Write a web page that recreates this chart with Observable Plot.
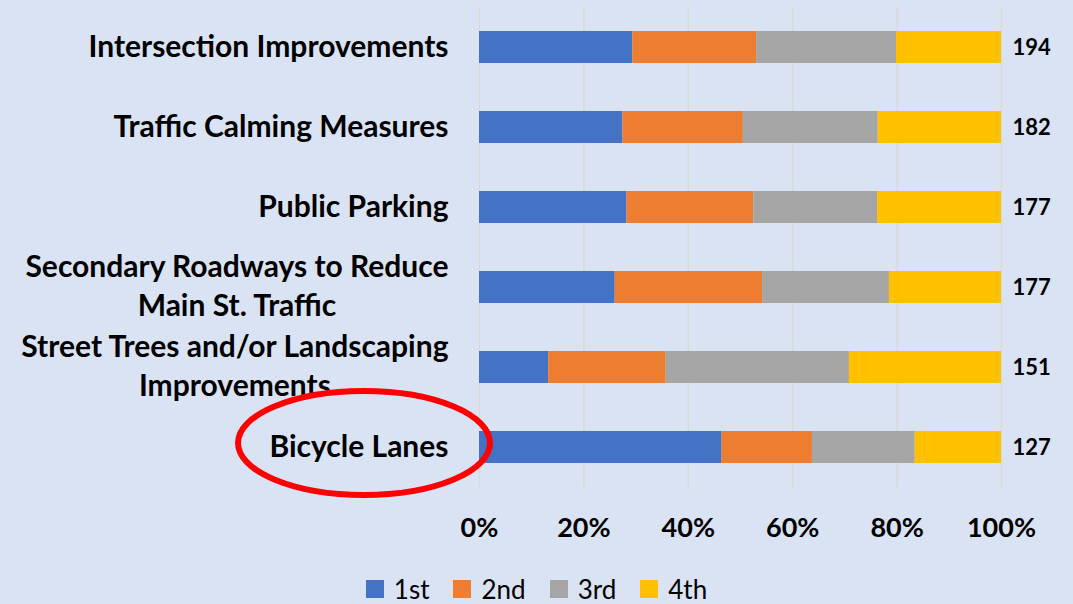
<!DOCTYPE html>
<html>
<head>
<meta charset="utf-8">
<script src="https://cdn.jsdelivr.net/npm/d3@7"></script>
<script src="https://cdn.jsdelivr.net/npm/@observablehq/plot@0.6"></script>
<style>
  html, body { margin: 0; padding: 0; background: #dae3f3; width: 1073px; height: 604px; overflow: hidden; }
  #chart svg { display: block; }
  #legend { display: flex; justify-content: center; align-items: center; height: 30px; margin-top: 4px; margin-left: 0px;
            font-family: Lato, "Open Sans", sans-serif; font-size: 26px; line-height: 30px; color: #000; }
  .item { display: flex; align-items: center; margin: 0 12px; }
  .sw { width: 18px; height: 18px; margin-right: 10px; }
</style>
</head>
<body>
<div id="chart"></div>
<div id="legend"></div>
<script>
const categories = [
  "Intersection Improvements",
  "Traffic Calming Measures",
  "Public Parking",
  "Secondary Roadways to Reduce\nMain St. Traffic",
  "Street Trees and/or Landscaping\nImprovements",
  "Bicycle Lanes"
];
const ranks = ["1st", "2nd", "3rd", "4th"];
const first  = [57, 50, 50, 46, 20, 59];
const second = [46, 42, 43, 50, 34, 22];
const third  = [52, 47, 42, 43, 53, 25];
const fourth = [39, 43, 42, 38, 44, 21];
const totals = [194, 182, 177, 177, 151, 127];
const xTicks = [0, 0.2, 0.4, 0.6, 0.8, 1];
const colors = ["#4472c4", "#ed7d31", "#a5a5a5", "#ffc000"];

const series = [first, second, third, fourth];
const data = [];
categories.forEach((c, i) => ranks.forEach((r, j) => data.push({category: c, rank: r, value: series[j][i]})));
const totalRows = categories.map((c, i) => ({category: c, total: totals[i]}));

const font = "Lato, 'Open Sans', sans-serif";
const plot = Plot.plot({
  width: 1073,
  height: 570,
  marginTop: 7,
  marginBottom: 83,
  marginLeft: 479,
  marginRight: 72,
  style: {background: "#dae3f3", fontFamily: font, color: "#000", overflow: "visible"},
  x: {domain: [0, 1]},
  y: {domain: categories, paddingInner: 0.6, paddingOuter: 0.3},
  color: {domain: ranks, range: colors},
  marks: [
    Plot.gridX(xTicks, {stroke: "#d9d9d9", strokeOpacity: 1, strokeWidth: 1.5}),
    Plot.barX(data, Plot.stackX({x: "value", y: "category", fill: "rank", offset: "normalize"})),
    Plot.text(totalRows, {x: () => 1, y: "category", text: "total", textAnchor: "start", dx: 11,
      fontSize: 22, fontWeight: "bold", fill: "#000"}),
    Plot.axisX({ticks: xTicks, tickFormat: d3.format(".0%"), tickSize: 0, tickPadding: 30,
      fontSize: 27, fontWeight: "bold", label: null}),
    Plot.axisY({tickSize: 0, tickPadding: 31, fontSize: 30, fontWeight: "bold", lineHeight: 1.3, dy: -3, label: null})
  ]
});
document.getElementById("chart").appendChild(plot);

// center the lines of multi-line category labels within their block
d3.select(plot).selectAll("g[aria-label='y-axis tick label'] text").each(function() {
  const tspans = this.querySelectorAll("tspan");
  if (tspans.length > 1) {
    let w = 0;
    tspans.forEach(t => { w = Math.max(w, t.getComputedTextLength()); });
    this.setAttribute("text-anchor", "middle");
    this.style.textAnchor = "middle";
    tspans.forEach(t => t.setAttribute("x", -w / 2));
  }
});

// red highlight ellipse around "Bicycle Lanes"
const ys = plot.scale("y"), xs = plot.scale("x");
const cy = ys.apply("Bicycle Lanes") + ys.bandwidth / 2 - 4;
const cx = xs.apply(0) - 115;
d3.select(plot).append("ellipse")
  .attr("cx", cx).attr("cy", cy).attr("rx", 126).attr("ry", 52)
  .attr("fill", "none").attr("stroke", "#ff0000").attr("stroke-width", 6);

// legend
const legend = d3.select("#legend");
ranks.forEach((r, i) => {
  const item = legend.append("div").attr("class", "item");
  item.append("div").attr("class", "sw").style("background", colors[i]);
  item.append("span").text(r);
});
</script>
</body>
</html>
